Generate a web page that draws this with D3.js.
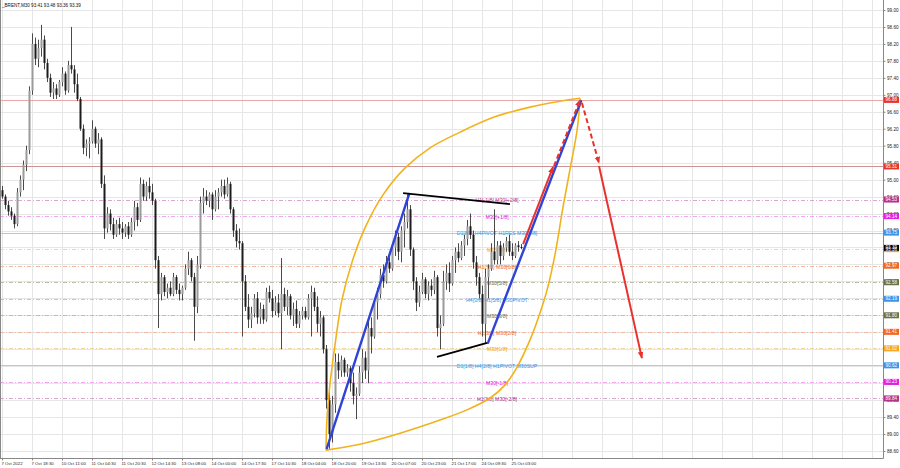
<!DOCTYPE html>
<html><head><meta charset="utf-8">
<script src="https://cdn.jsdelivr.net/npm/d3@7/dist/d3.min.js"></script>
<style>html,body{margin:0;padding:0;background:#fff;}svg{display:block;font-family:"Liberation Sans",Arial,sans-serif;}</style>
</head><body>
<svg id="chart" width="900" height="468"></svg>
<script>
// ---------------- DATA ----------------
const titleText = "_BRENT,M30  93.41 93.48 93.36 93.39";
const timeLabels = ["7 Oct 2022","7 Oct 18:30","10 Oct 11:00","11 Oct 04:30","11 Oct 20:30","12 Oct 14:30","13 Oct 08:00","14 Oct 00:00","14 Oct 17:30","17 Oct 10:30","18 Oct 04:00","18 Oct 20:00","19 Oct 13:30","20 Oct 07:00","20 Oct 23:00","21 Oct 17:00","24 Oct 09:30","25 Oct 03:00"];
const timeLabelStep = 10; // bars between time labels
const priceTicks = [88.6,89.0,89.4,89.8,90.2,90.6,91.0,91.4,91.8,92.2,92.6,93.0,93.4,93.8,94.2,94.6,95.0,95.4,95.8,96.2,96.6,97.0,97.4,97.8,98.2,98.6,99.0];
// candles [open, high, low, close]
const candles = [
[94.75,94.85,94.55,94.6],[94.6,94.65,94.3,94.4],[94.4,94.5,94.15,94.25],[94.25,94.35,94.05,94.15],[94.15,94.2,93.85,93.95],
[93.95,94.8,93.9,94.7],[94.7,95.1,94.6,95.0],[95.0,95.45,94.75,95.35],[95.35,95.8,95.2,95.7],[95.7,97.2,95.6,97.1],
[97.1,98.45,97.0,98.2],[98.2,98.35,97.7,97.85],[97.85,98.3,97.65,98.1],[98.1,98.65,97.9,98.3],[98.3,98.4,97.6,97.75],
[97.75,97.85,97.3,97.4],[97.4,97.5,96.95,97.05],[97.05,97.3,96.9,97.15],[97.15,97.25,96.9,97.0],[97.0,97.35,96.95,97.3],
[97.3,97.65,97.2,97.5],[97.5,97.55,97.0,97.1],[97.1,97.8,97.05,97.7],[97.7,98.6,97.5,97.6],[97.6,97.7,97.05,97.25],
[97.25,97.5,96.85,96.9],[96.9,96.95,96.15,96.2],[96.2,96.3,95.6,95.75],[95.75,95.95,95.55,95.85],[95.85,96.0,95.5,95.9],
[95.9,96.4,95.85,96.2],[96.2,96.25,95.75,95.85],[95.85,96.1,95.6,95.95],[95.95,96.0,94.8,94.9],[94.9,95.1,93.6,93.85],
[93.85,94.35,93.75,94.2],[94.2,94.3,93.8,93.95],[93.95,94.1,93.6,93.7],[93.7,94.05,93.65,93.95],[93.95,94.1,93.7,93.85],
[93.85,94.0,93.6,93.75],[93.75,93.95,93.65,93.9],[93.9,94.0,93.6,93.7],[93.7,94.1,93.65,94.0],[94.0,94.5,93.8,94.35],
[94.35,94.45,93.9,94.05],[94.05,95.05,94.0,94.9],[94.9,95.0,94.5,94.6],[94.6,94.95,94.5,94.85],[94.85,95.05,94.55,94.7],
[94.7,94.9,94.4,94.5],[94.5,94.55,92.9,93.1],[93.1,93.2,91.5,92.3],[92.3,92.8,92.15,92.7],[92.7,92.75,92.25,92.35],
[92.35,92.55,92.2,92.45],[92.45,92.6,92.25,92.3],[92.3,92.8,92.25,92.7],[92.7,92.75,92.3,92.4],[92.4,92.55,92.15,92.3],
[92.3,92.5,92.15,92.45],[92.45,93.0,92.4,92.9],[92.9,93.3,92.75,93.1],[93.1,93.15,92.6,92.7],[92.7,92.8,91.2,92.0],
[92.0,93.2,91.85,93.0],[93.0,94.6,92.9,94.45],[94.45,94.8,94.2,94.6],[94.6,94.75,94.4,94.5],[94.5,94.7,94.35,94.65],
[94.65,94.7,94.05,94.3],[94.3,94.75,94.25,94.6],[94.6,94.8,94.3,94.7],[94.7,95.0,94.6,94.85],[94.85,95.0,94.55,94.65],
[94.65,95.05,94.6,94.9],[94.9,94.95,94.2,94.3],[94.3,94.35,93.65,93.8],[93.8,93.95,93.4,93.55],[93.55,93.85,93.35,93.5],
[93.5,93.55,91.3,92.6],[92.6,92.75,91.9,92.0],[92.0,92.3,91.5,91.7],[91.7,92.0,91.5,91.85],[91.85,92.3,91.75,92.2],
[92.2,92.35,91.6,91.75],[91.75,92.1,91.6,91.95],[91.95,92.05,91.6,91.7],[91.7,92.45,91.65,92.35],[92.35,92.5,92.1,92.2],
[92.2,92.4,91.75,91.9],[91.9,92.25,91.8,92.1],[92.1,92.3,91.75,91.85],[91.85,93.15,91.0,92.3],[92.3,92.45,91.9,92.0],
[92.0,92.4,91.8,92.25],[92.25,92.3,91.7,91.8],[91.8,92.1,91.55,91.95],[91.95,92.15,91.5,91.6],[91.6,91.9,91.5,91.8],
[91.8,92.0,91.7,91.9],[91.9,92.0,91.7,91.75],[91.75,92.3,91.7,92.2],[92.2,92.5,91.3,92.35],[92.35,92.45,91.9,92.0],
[92.0,92.25,91.4,91.6],[91.6,91.9,91.3,91.75],[91.75,91.8,90.9,91.0],[91.0,91.1,89.6,89.8],[89.8,90.0,88.65,89.0],
[89.0,89.9,88.8,89.7],[89.7,90.9,89.5,90.7],[90.7,90.9,90.3,90.5],[90.5,90.85,90.35,90.75],[90.75,90.8,90.35,90.45],
[90.45,90.65,90.35,90.55],[90.55,90.6,90.0,90.2],[90.2,90.45,89.7,89.9],[89.9,90.1,89.35,89.95],[89.95,90.6,89.9,90.45],
[90.45,91.0,90.2,90.8],[90.8,90.95,90.3,90.5],[90.5,91.7,90.2,91.5],[91.5,91.75,90.9,91.3],[91.3,92.2,91.25,92.1],
[92.1,92.45,91.7,92.3],[92.3,92.9,92.2,92.75],[92.75,93.0,92.45,92.6],[92.6,93.2,92.55,93.05],[93.05,93.25,92.8,92.9],
[92.9,93.5,92.85,93.4],[93.4,93.8,93.2,93.65],[93.65,93.75,93.1,93.3],[93.3,93.9,93.05,93.8],[93.8,94.2,93.4,94.0],
[94.0,94.65,93.85,94.3],[94.3,94.4,93.2,93.35],[93.35,93.4,92.4,92.6],[92.6,92.7,91.9,92.1],[92.1,92.5,92.0,92.35],
[92.35,92.8,92.3,92.65],[92.65,92.7,92.2,92.3],[92.3,92.6,92.15,92.5],[92.5,92.65,92.25,92.4],[92.4,92.85,92.3,92.7],
[92.7,92.75,91.3,91.5],[91.5,91.8,91.0,91.6],[91.6,92.85,91.55,92.6],[92.6,93.0,92.4,92.8],[92.8,93.05,92.35,92.55],
[92.55,93.2,92.5,93.1],[93.1,93.4,92.8,93.3],[93.3,93.5,93.05,93.15],[93.15,93.55,93.1,93.45],[93.45,93.7,93.2,93.6],
[93.6,94.05,93.45,93.9],[93.9,94.2,93.6,93.7],[93.7,93.8,92.9,93.05],[93.05,93.2,92.5,92.7],[92.7,92.8,92.2,92.3],
[92.3,92.5,91.3,91.6],[91.6,92.9,91.15,92.7],[92.7,93.0,92.2,92.9],[92.9,93.5,92.85,93.3],[93.3,94.3,93.0,93.1],
[93.1,93.55,93.0,93.45],[93.45,93.55,93.0,93.2],[93.2,93.5,93.1,93.4],[93.4,93.65,93.3,93.55],[93.55,93.7,93.2,93.3],
[93.3,93.5,93.1,93.2],[93.2,93.5,93.15,93.45],[93.45,93.55,93.3,93.41],[93.41,93.48,93.36,93.39]
];
const currentPrice = 93.39;
const redLevelPrices = [96.88, 95.31];
const levelPrices = [94.53,94.14,93.75,93.36,92.97,92.58,92.19,91.80,91.41,91.02,90.62,90.23,89.84];
const levelTexts = ["H1[-1/8] M30[+2/8]","M30[+1/8]","D1[8/8] H4PIVOT H1RES M30[8/8]","M30[7/8]","H1[7/8] M30[6/8]","M30[5/8]","H4[3/8] H1[5/8] M30PIVOT","M30[3/8]","H1[3/8] M30[2/8]","M30[1/8]","D1[1/8] H4[2/8] H1PIVOT M30SUP","M30[-1/8]","H1[2/8] M30[-2/8]"];
const levelTextBar = 165;
// drawing objects [bar, price]
const blueLines = [[[108.3,88.67],[135.7,94.66]], [[162,91.15],[193,96.85]]];
const blackLines = [[[133.7,94.68],[169.3,94.42]], [[145,90.82],[161.7,91.15]]];
const redSolidArrows = [[[173.7,93.48],[183.7,95.30]], [[199,95.32],[213.3,90.79]]];
const redDashedArrows = [[[184,95.32],[192.7,96.88]], [[193.3,96.81],[199,95.39]]];
const arcUpper = [[108,88.62],[108.3,89.33],[109.3,90.16],[111,91.10],[113.3,92.16],[116.7,93.06],[121,93.86],[127,94.64],[134.3,95.27],[142.7,95.75],[152.7,96.12],[164.3,96.48],[176,96.71],[186,96.85],[192.7,96.92]];
const arcLower = [[108,88.62],[119.3,88.76],[132.7,89.02],[146,89.33],[155,89.57],[162.7,89.85],[167.7,90.16],[171.7,90.58],[176,91.22],[179.3,91.85],[181.7,92.40],[184.3,93.22],[187,94.35],[189.3,95.23],[191.7,96.17],[192.7,96.92]];

// ---------------- STYLES ----------------
const levelColors = ["#b5338a","#e21ee2","#3d94e6","#f5a623","#f26522","#6b7045","#3d94e6","#6b7045","#f26522","#f5a623","#3d94e6","#e21ee2","#b5338a"];
const levelLineColors = ["#d9a6cf","#f2a6f2","#a9cdef","#f2d59a","#f4b89c","#bcc0a6","#a9cdef","#bcc0a6","#f4b89c","#f2d59a","#a9cdef","#f2a6f2","#d9a6cf"];
const levelSolid = [false,false,true,false,false,false,false,false,false,false,true,false,false];
const redLevelLine = ["#eaa9a9","#cf9393"];
const redLevelBox = ["#e8302c","#e03a2e"];

// ---------------- CHART ----------------
const W = 900, H = 468, plotRight = 883, plotBottom = 458;
const svg = d3.select("#chart");
const x = d3.scaleLinear().domain([0, 290]).range([2, 872]);
const y = d3.scaleLinear().domain([88.6, 99.0]).range([451, 10]);

svg.append("rect").attr("width", W).attr("height", H).attr("fill", "#fff");

// grid
const g = svg.append("g");
const gridBars = d3.range(0, 291, timeLabelStep);
g.selectAll(".vg").data(gridBars).join("line")
  .attr("x1", d => x(d) + 0.5).attr("x2", d => x(d) + 0.5)
  .attr("y1", 0).attr("y2", plotBottom)
  .attr("stroke", "#e6e6e6").attr("stroke-width", 1);
g.selectAll(".hg").data(priceTicks).join("line")
  .attr("x1", 0).attr("x2", plotRight)
  .attr("y1", d => Math.round(y(d)) + 0.5).attr("y2", d => Math.round(y(d)) + 0.5)
  .attr("stroke", "#e6e6e6").attr("stroke-width", 1);

// level lines
svg.append("g").selectAll("line").data(levelPrices).join("line")
  .attr("x1", 0).attr("x2", plotRight)
  .attr("y1", d => Math.round(y(d)) + 0.5).attr("y2", d => Math.round(y(d)) + 0.5)
  .attr("stroke", (d, i) => levelLineColors[i]).attr("stroke-width", 1)
  .attr("stroke-dasharray", (d, i) => levelSolid[i] ? null : "4,2,1,2");
svg.append("g").selectAll("line").data(redLevelPrices).join("line")
  .attr("x1", 0).attr("x2", plotRight)
  .attr("y1", d => Math.round(y(d)) + 0.5).attr("y2", d => Math.round(y(d)) + 0.5)
  .attr("stroke", (d, i) => redLevelLine[i]).attr("stroke-width", 1);

// level texts
svg.append("g").selectAll("text").data(levelTexts).join("text")
  .attr("x", x(levelTextBar)).attr("y", (d, i) => y(levelPrices[i]) + 1.5)
  .attr("text-anchor", "middle").attr("dominant-baseline", "middle")
  .attr("font-size", 5.2).attr("fill", (d, i) => levelColors[i])
  .text(d => d);

// candles
const cg = svg.append("g");
cg.selectAll("line").data(candles).join("line")
  .attr("x1", (d, i) => x(i) + 0.5).attr("x2", (d, i) => x(i) + 0.5)
  .attr("y1", d => y(d[1])).attr("y2", d => y(d[2]))
  .attr("stroke", "#4a4a4a").attr("stroke-width", 1);
cg.selectAll("rect").data(candles).join("rect")
  .attr("x", (d, i) => x(i) - 0.5).attr("width", 2)
  .attr("y", d => y(Math.max(d[0], d[3])))
  .attr("height", d => Math.max(1, Math.abs(y(d[0]) - y(d[3]))))
  .attr("fill", d => d[3] >= d[0] ? "#9a9a9a" : "#1c1c1c");

// ellipse arcs
const lineGen = d3.line().x(d => x(d[0])).y(d => y(d[1])).curve(d3.curveCatmullRom.alpha(0.5));
[arcUpper, arcLower].forEach(a => svg.append("path").attr("d", lineGen(a))
  .attr("fill", "none").attr("stroke", "#f2b21b").attr("stroke-width", 1.6));

// straight lines
const straight = d3.line().x(d => x(d[0])).y(d => y(d[1]));
blueLines.forEach(l => svg.append("path").attr("d", straight(l))
  .attr("stroke", "#2f43d6").attr("stroke-width", 2.4).attr("fill", "none").attr("stroke-linecap", "round"));
blackLines.forEach(l => svg.append("path").attr("d", straight(l))
  .attr("stroke", "#000").attr("stroke-width", 1.8).attr("fill", "none"));

// arrow marker
const defs = svg.append("defs");
defs.append("marker").attr("id", "ah").attr("viewBox", "0 0 10 10").attr("refX", 9).attr("refY", 5)
  .attr("markerWidth", 7).attr("markerHeight", 7).attr("markerUnits", "userSpaceOnUse").attr("orient", "auto")
  .append("path").attr("d", "M0,1 L10,5 L0,9 Z").attr("fill", "#e8322d");
redSolidArrows.forEach(l => svg.append("path").attr("d", straight(l))
  .attr("stroke", "#e8322d").attr("stroke-width", 2).attr("fill", "none").attr("marker-end", "url(#ah)"));
redDashedArrows.forEach(l => svg.append("path").attr("d", straight(l))
  .attr("stroke", "#e8322d").attr("stroke-width", 2).attr("fill", "none")
  .attr("stroke-dasharray", "5,3").attr("marker-end", "url(#ah)"));

// axes frame
svg.append("line").attr("x1", plotRight + 0.5).attr("x2", plotRight + 0.5).attr("y1", 0).attr("y2", plotBottom + 0.5)
  .attr("stroke", "#888").attr("stroke-width", 1);
svg.append("line").attr("x1", 0).attr("x2", plotRight + 0.5).attr("y1", plotBottom + 0.5).attr("y2", plotBottom + 0.5)
  .attr("stroke", "#888").attr("stroke-width", 1);
svg.append("line").attr("x1", 0.5).attr("x2", 0.5).attr("y1", 0).attr("y2", plotBottom)
  .attr("stroke", "#888").attr("stroke-width", 1);

// price axis
const yAxis = d3.axisRight(y).tickValues(priceTicks).tickFormat(d3.format(".2f")).tickSize(2).tickPadding(1.5);
const ya = svg.append("g").attr("transform", `translate(${plotRight + 0.5},0)`).call(yAxis);
ya.select(".domain").remove();
ya.selectAll("text").attr("font-size", 4.6).attr("fill", "#222").attr("font-family", "Liberation Sans, Arial, sans-serif");
ya.selectAll("line").attr("stroke", "#888");

// time axis
const xAxis = d3.axisBottom(x).tickValues(d3.range(0, timeLabels.length * timeLabelStep, timeLabelStep))
  .tickFormat((d, i) => timeLabels[i]).tickSize(2).tickPadding(1);
const xa = svg.append("g").attr("transform", `translate(0,${plotBottom + 0.5})`).call(xAxis);
xa.select(".domain").remove();
xa.selectAll("line").attr("stroke", "#888");
xa.selectAll("text").attr("font-size", 4.3).attr("fill", "#222").attr("text-anchor", "start")
  .attr("font-family", "Liberation Sans, Arial, sans-serif").attr("dx", "-1");

// price boxes
const boxes = [];
redLevelPrices.forEach((p, i) => boxes.push({p, c: redLevelBox[i]}));
levelPrices.forEach((p, i) => boxes.push({p, c: levelColors[i]}));
boxes.push({p: currentPrice, c: "#000000"});
const bg = svg.append("g");
bg.selectAll("rect").data(boxes).join("rect")
  .attr("x", plotRight + 1).attr("width", 15)
  .attr("y", d => y(d.p) - 3).attr("height", 6).attr("fill", d => d.c);
bg.selectAll("text").data(boxes).join("text")
  .attr("x", plotRight + 2.5).attr("y", d => y(d.p) + 0.3).attr("dominant-baseline", "middle")
  .attr("font-size", 4.6).attr("fill", "#fff").text(d => d.p.toFixed(2));

// title
svg.append("text").attr("x", 2).attr("y", 6.5).attr("font-size", 4.6).attr("fill", "#111").text(titleText);
</script>
</body></html>
